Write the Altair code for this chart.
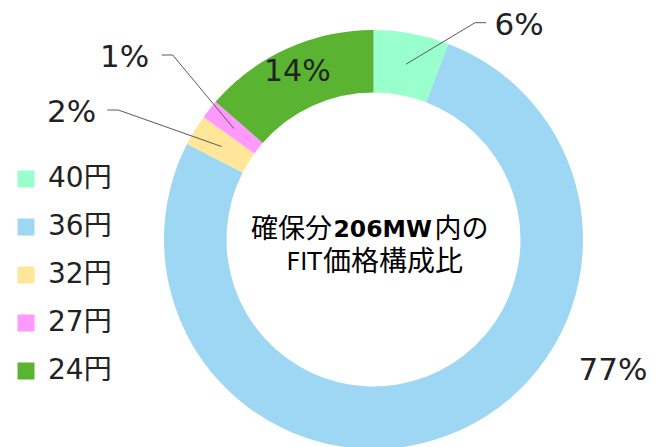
import math
import altair as alt
import pandas as pd

# ---- data ----
categories = ["40円", "36円", "32円", "27円", "24円"]
values_mw = [12, 158, 5, 3, 28]
pct_labels = ["6%", "77%", "2%", "1%", "14%"]
colors = ["#99FFCC", "#9DD7F3", "#FFE699", "#FF99FF", "#5AB432"]

# ---- layout (chart pixel coordinates) ----
CX, CY = 365.5, 231.5
R_OUT, R_IN = 209.5, 147
R_MID = (R_OUT + R_IN) / 2
TXT = "#222222"
LATIN = "DejaVu Sans, Noto Sans CJK JP"
CJK = "Noto Sans CJK JP"

# manually placed labels (like Excel's moved data labels)
moved_labels = {"6%": (511, 17.5), "77%": (605, 362.5), "1%": (116.5, 50), "2%": (63.7, 104.5)}
leader_elbows = {"6%": [(467, 14.7), (478, 14.7)],
                 "1%": [(164.7, 47), (153.7, 47)],
                 "2%": [(110.3, 102), (99.3, 102)]}

df = pd.DataFrame({
    "category": categories,
    "value": values_mw,
    "label": pct_labels,
    "idx": list(range(len(categories))),
})
df["inside"] = [lab if lab == "14%" else "" for lab in pct_labels]

total = sum(values_mw)
cum = 0
mid_frac = {}
for c, v, lab in zip(categories, values_mw, pct_labels):
    mid_frac[lab] = (cum + v / 2) / total
    cum += v

lead_rows = []
for lab, pts in leader_elbows.items():
    a = mid_frac[lab] * 2 * math.pi
    start = (CX + R_MID * math.sin(a), CY - R_MID * math.cos(a))
    for i, (px, py) in enumerate([start] + pts):
        lead_rows.append({"lab": lab, "seq": i, "x": px, "y": py})
lead_df = pd.DataFrame(lead_rows)

mov_df = pd.DataFrame([{"label": k, "x": v[0], "y": v[1]} for k, v in moved_labels.items()])

arc = alt.Chart(df).mark_arc(outerRadius=R_OUT, innerRadius=R_IN).encode(
    theta=alt.Theta("value:Q", stack=True),
    color=alt.Color(
        "category:N",
        scale=alt.Scale(domain=categories, range=colors),
        sort=categories,
        legend=alt.Legend(
            title=None, orient="none", legendX=4, legendY=157,
            symbolType="square", symbolSize=289, symbolStrokeWidth=0,
            labelFontSize=28, labelFont=LATIN, labelColor=TXT,
            labelOffset=8, rowPadding=20, padding=0,
        ),
    ),
    order=alt.Order("idx:Q"),
    x=alt.value(CX), y=alt.value(CY),
)

inside = alt.Chart(df).mark_text(
    radius=184, fontSize=30, font=LATIN, color=TXT, baseline="middle", align="center"
).encode(
    theta=alt.Theta("value:Q", stack=True),
    text="inside:N",
    order=alt.Order("idx:Q"),
    x=alt.value(CX), y=alt.value(CY),
)

leaders = alt.Chart(lead_df).mark_line(color="#595959", strokeWidth=1).encode(
    x=alt.X("x:Q", scale=None), y=alt.Y("y:Q", scale=None),
    detail="lab:N", order="seq:Q",
)

moved = alt.Chart(mov_df).mark_text(
    fontSize=31, font=LATIN, color=TXT, baseline="middle", align="center"
).encode(
    x=alt.X("x:Q", scale=None), y=alt.Y("y:Q", scale=None), text="label:N",
)

def ctext(txt, x, y, align, font, size, weight="normal"):
    return alt.Chart(pd.DataFrame({"t": [txt]})).mark_text(
        align=align, baseline="middle", font=font, fontSize=size,
        fontWeight=weight, color="#000000",
    ).encode(x=alt.value(x), y=alt.value(y), text="t:N")

center = [
    ctext("確保分", 324, 222, "right", CJK, 27),
    ctext("206MW", 325.5, 222, "left", "DejaVu Sans", 23.5, "bold"),
    ctext("内の", 426.5, 222, "left", CJK, 27),
    ctext("FIT", 314, 255, "right", "DejaVu Sans", 24),
    ctext("価格構成比", 315, 255, "left", CJK, 28),
]

chart = alt.layer(arc, inside, leaders, moved, *center).properties(
    width=640, height=439, padding=0,
    autosize=alt.AutoSizeParams(type="none"),
).configure_view(stroke=None)

chart.save("out.html", embed_options={"renderer": "svg", "actions": False})
